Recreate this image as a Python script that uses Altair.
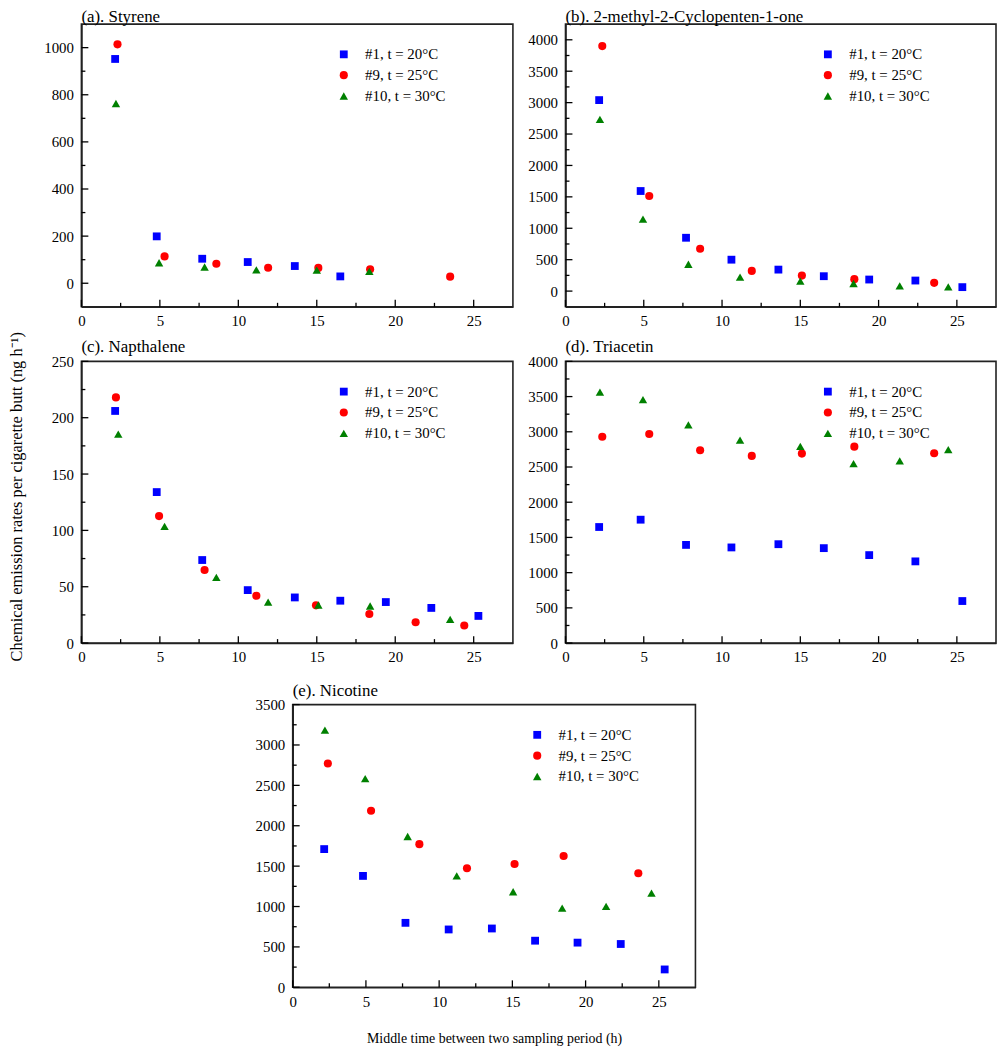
import altair as alt
import pandas as pd

SERIES = ["#1, t = 20°C", "#9, t = 25°C", "#10, t = 30°C"]
COLORS = ["#0000FF", "#FF0000", "#008000"]
SHAPES = ["square", "circle", "triangle-up"]
SIZES = [62, 72, 128]

# (a) Styrene
a_x1 = [2.15, 4.8, 7.7, 10.6, 13.6, 16.5]
a_y1 = [952, 199, 104, 90, 73, 29]
a_x9 = [2.3, 5.3, 8.6, 11.9, 15.1, 18.4, 23.5]
a_y9 = [1014, 114, 83, 66, 65, 59, 28]
a_x10 = [2.2, 4.95, 7.85, 11.15, 15.0, 18.35]
a_y10 = [763, 87, 69, 57, 56, 50]

# (b) 2-methyl-2-Cyclopenten-1-one
b_x1 = [2.15, 4.8, 7.7, 10.6, 13.6, 16.5, 19.4, 22.35, 25.35]
b_y1 = [3040, 1593, 849, 500, 342, 237, 184, 168, 63]
b_x9 = [2.35, 5.35, 8.6, 11.9, 15.1, 18.45, 23.55]
b_y9 = [3900, 1514, 675, 321, 247, 190, 131]
b_x10 = [2.2, 4.95, 7.85, 11.15, 15.0, 18.4, 21.35, 24.45]
b_y10 = [2733, 1145, 427, 221, 158, 121, 84, 68]

# (c) Napthalene
c_x1 = [2.15, 4.8, 7.7, 10.6, 13.6, 16.5, 19.4, 22.3, 25.3]
c_y1 = [206, 134, 73.7, 47, 40.5, 37.6, 36.4, 31.2, 24.1]
c_x9 = [2.2, 4.95, 7.85, 11.15, 14.95, 18.35, 21.3, 24.4]
c_y9 = [218, 112.7, 64.9, 42, 33.5, 25.8, 18.5, 15.6]
c_x10 = [2.35, 5.3, 8.6, 11.9, 15.1, 18.4, 23.5]
c_y10 = [185.5, 103.6, 58.4, 36.4, 33.8, 32.9, 21.1]

# (d) Triacetin
d_x1 = [2.15, 4.8, 7.7, 10.6, 13.6, 16.5, 19.4, 22.35, 25.35]
d_y1 = [1648, 1752, 1394, 1358, 1404, 1348, 1249, 1160, 597]
d_x9 = [2.35, 5.35, 8.6, 11.9, 15.1, 18.45, 23.55]
d_y9 = [2930, 2968, 2738, 2658, 2690, 2789, 2696]
d_x10 = [2.2, 4.95, 7.85, 11.15, 15.0, 18.4, 21.35, 24.45]
d_y10 = [3563, 3456, 3099, 2883, 2794, 2549, 2587, 2746]

# (e) Nicotine
e_x1 = [2.15, 4.8, 7.7, 10.65, 13.6, 16.55, 19.45, 22.4, 25.4]
e_y1 = [1711, 1379, 798, 716, 728, 577, 553, 536, 221]
e_x9 = [2.4, 5.35, 8.65, 11.9, 15.15, 18.5, 23.6]
e_y9 = [2771, 2186, 1772, 1474, 1527, 1625, 1412]
e_x10 = [2.2, 4.95, 7.85, 11.2, 15.05, 18.4, 21.4, 24.5]
e_y10 = [3185, 2583, 1867, 1379, 1183, 979, 1003, 1167]

X_MAJOR = [0, 5, 10, 15, 20, 25]
X_MINOR = [2.5, 7.5, 12.5, 17.5, 22.5]

FONT = "Liberation Serif"
Y_TITLE = "Chemical emission rates per cigarette butt (ng h\u207b\u00b9)"
X_TITLE = "Middle time between two sampling period (h)"


def panel(title, xs, ys, ydom, ymaj, ymin, w, h, legx, ytitle=None, xtitle=None):
    rows = []
    for s, xv, yv in zip(SERIES, xs, ys):
        for a, b in zip(xv, yv):
            rows.append({"time": a, "rate": b, "series": s})
    df = pd.DataFrame(rows)
    xscale = alt.Scale(domain=[0, 27.5], nice=False, zero=False)
    yscale = alt.Scale(domain=ydom, nice=False, zero=False)

    xaxis = alt.Axis(values=X_MAJOR, ticks=False, grid=False, labelFlush=False,
                     labelPadding=7, format="d", title=xtitle, titlePadding=23,
                     titleFontSize=14, titleFontWeight="normal", titleFont=FONT)
    yaxis = alt.Axis(values=ymaj, ticks=False, grid=False, labelPadding=8, format="d",
                     title=ytitle, titlePadding=19, titleFontSize=16.5,
                     titleFontWeight="normal", titleFont=FONT, titleY=476)
    leg = alt.Legend(orient="none", legendX=legx, legendY=23, title=None,
                     labelFont=FONT, labelFontSize=15, labelColor="black",
                     labelOffset=14, rowPadding=5, padding=0,
                     symbolStrokeWidth=0)

    sc = alt.Scale(domain=SERIES, range=COLORS)
    pts = alt.Chart(df).mark_point(filled=True, opacity=1).encode(
        x=alt.X("time:Q", scale=xscale, axis=xaxis),
        y=alt.Y("rate:Q", scale=yscale, axis=yaxis),
        color=alt.Color("series:N", scale=sc, legend=leg),
        shape=alt.Shape("series:N", scale=alt.Scale(domain=SERIES, range=SHAPES), legend=leg),
        size=alt.Size("series:N", scale=alt.Scale(domain=SERIES, range=SIZES), legend=leg),
    )

    def yticks(vals, length):
        return alt.Chart(pd.DataFrame({"rate": vals})).mark_rule(color="black", strokeWidth=1.3).encode(
            y=alt.Y("rate:Q", scale=yscale, axis=yaxis),
            x=alt.value(0), x2=alt.value(length))

    def xticks(vals, length):
        return alt.Chart(pd.DataFrame({"time": vals})).mark_rule(color="black", strokeWidth=1.3).encode(
            x=alt.X("time:Q", scale=xscale, axis=xaxis),
            y=alt.value(h), y2=alt.value(h - length))

    return alt.layer(
        pts, yticks(ymaj, 7), yticks(ymin, 4), xticks(X_MAJOR, 7), xticks(X_MINOR, 4)
    ).properties(
        width=w, height=h,
        title=alt.TitleParams(title, anchor="start", frame="group", font=FONT,
                              fontSize=17, fontWeight="normal", offset=-2, color="black"),
    )


pa = panel("(a). Styrene", [a_x1, a_x9, a_x10], [a_y1, a_y9, a_y10], [-100, 1100],
           [0, 200, 400, 600, 800, 1000], [100, 300, 500, 700, 900], 435, 285, 257,
           ytitle=Y_TITLE)
pb = panel("(b). 2-methyl-2-Cyclopenten-1-one", [b_x1, b_x9, b_x10], [b_y1, b_y9, b_y10], [-250, 4250],
           [0, 500, 1000, 1500, 2000, 2500, 3000, 3500, 4000],
           [250, 750, 1250, 1750, 2250, 2750, 3250, 3750], 434, 285, 257)
pc = panel("(c). Napthalene", [c_x1, c_x9, c_x10], [c_y1, c_y9, c_y10], [0, 250],
           [0, 50, 100, 150, 200, 250], [25, 75, 125, 175, 225], 435, 284, 257)
pd_ = panel("(d). Triacetin", [d_x1, d_x9, d_x10], [d_y1, d_y9, d_y10], [0, 4000],
            [0, 500, 1000, 1500, 2000, 2500, 3000, 3500, 4000],
            [250, 750, 1250, 1750, 2250, 2750, 3250, 3750], 434, 284, 257)
pe = panel("(e). Nicotine", [e_x1, e_x9, e_x10], [e_y1, e_y9, e_y10], [0, 3500],
           [0, 500, 1000, 1500, 2000, 2500, 3000, 3500],
           [250, 750, 1250, 1750, 2250, 2750, 3250], 406, 285, 239, xtitle=X_TITLE)

spacer = alt.Chart(pd.DataFrame({"time": [0]})).mark_point(opacity=0).encode(
    x=alt.value(0), y=alt.value(0)
).properties(width=173, height=10, view=alt.ViewBackground(stroke="transparent"))

grid = alt.concat(pa, pb, pc, pd_, columns=2, bounds="flush",
                  spacing=alt.RowColnumber(row=55, column=53)).resolve_legend(
    color="independent", shape="independent", size="independent")
bottom = alt.hconcat(spacer, pe, spacing=0).resolve_legend(
    color="independent", shape="independent", size="independent")

chart = alt.vconcat(grid, bottom, spacing=15).resolve_legend(
    color="independent", shape="independent", size="independent"
).properties(
    padding={"top": -5, "left": 0, "right": 0, "bottom": 0}
).configure(
    font=FONT
).configure_view(
    stroke="#222222", strokeWidth=1.6
).configure_axis(
    domainColor="#222222", domainWidth=1.6, labelFont=FONT, labelFontSize=15,
    labelColor="black", titleColor="black"
).configure_legend(
    labelFont=FONT
).configure_title(
    font=FONT
)

chart.save("out.html", embed_options={"renderer": "svg", "actions": False})
